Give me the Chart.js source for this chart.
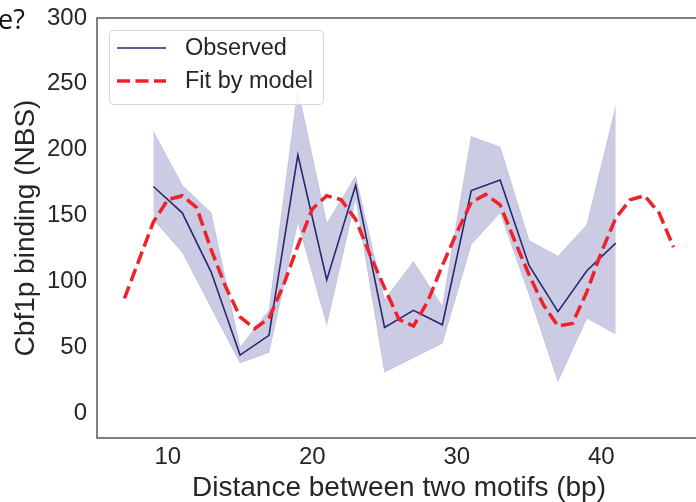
<!DOCTYPE html>
<html>
<head>
<meta charset="utf-8">
<script src="https://cdn.jsdelivr.net/npm/chart.js@4.4.1/dist/chart.umd.min.js"></script>
<style>
  html, body { margin: 0; padding: 0; background: #fff; overflow: hidden; }
  #wrap { position: relative; width: 720px; height: 502px; }
  #corner {
    position: absolute; left: -2px; top: 0px;
    font: 27px "Open Sans", "Noto Sans", sans-serif; color: #111;
  }
</style>
</head>
<body>
<div id="wrap">
  <canvas id="Chart" width="720" height="502"></canvas>
  <div id="corner">e?</div>
</div>
<script>
// spacing between the two motifs (bp), observed every 2 bp
var distances = [9, 11, 13, 15, 17, 19, 21, 23, 25, 27, 29, 31, 33, 35, 37, 39, 41];
var observed = [172, 152, 107, 44, 59, 196, 101, 173, 65, 78, 67, 169, 177, 112, 77, 108, 129];
var observedHigh = [214, 173, 152, 50, 78, 246, 144, 180, 86, 115, 81, 210, 202, 131, 119, 143, 233];
var observedLow = [147, 122, 80, 38, 46, 145, 67, 163, 31, 42, 53, 128, 152, 90, 24, 72, 60];

// model prediction, every bp
var fitDistances = [7, 8, 9, 10, 11, 12, 13, 14, 15, 16, 17, 18, 19, 20, 21, 22, 23, 24, 25, 26,
  27, 28, 29, 30, 31, 32, 33, 34, 35, 36, 37, 38, 39, 40, 41, 42, 43, 44, 45];
var fitValues = [87, 116, 145, 162, 165, 156, 124, 96, 73, 64, 72, 97, 127, 155, 165, 162, 147, 120, 95, 71,
  66, 85, 112, 137, 160, 166, 158, 131, 105, 82, 66, 68, 92, 122, 148, 162, 165, 152, 126];

var xTicks = [10, 20, 30, 40];
var yTicks = [0, 50, 100, 150, 200, 250, 300];

var labelObserved = "Observed";
var labelFit = "Fit by model";
var legendOrder = [labelObserved, labelFit];

var textColor = "#262626";
var fontFamily = "'Liberation Sans', Arial, Helvetica, sans-serif";

function pairs(xs, ys) {
  return xs.map(function (x, i) { return { x: x, y: ys[i] }; });
}

// box around the whole plot area
var frame = {
  id: "frame",
  afterDatasetsDraw: function (chart) {
    var a = chart.chartArea, ctx = chart.ctx;
    ctx.save();
    ctx.strokeStyle = "#555";
    ctx.lineWidth = 1.5;
    ctx.strokeRect(a.left, a.top, a.right - a.left, a.bottom - a.top);
    ctx.restore();
  },
};

// framed legend in the upper-left corner, only for the two main series
var boxLegend = {
  id: "boxLegend",
  afterDraw: function (chart) {
    var ctx = chart.ctx, a = chart.chartArea;
    var x = a.left + 12, y = a.top + 12, w = 214, h = 74;
    ctx.save();
    ctx.beginPath();
    ctx.roundRect(x + 0.5, y + 0.5, w, h, 4);
    ctx.fillStyle = "rgba(255,255,255,0.85)";
    ctx.fill();
    ctx.strokeStyle = "#d6d6d6";
    ctx.lineWidth = 1;
    ctx.stroke();
    legendOrder.forEach(function (label, i) {
      var d = chart.data.datasets.find(function (s) { return s.label === label; });
      var cy = y + 18 + i * 33;
      ctx.beginPath();
      ctx.setLineDash(d.borderDash || []);
      ctx.strokeStyle = d.borderColor;
      ctx.lineWidth = d.borderWidth;
      ctx.moveTo(x + 8, cy);
      ctx.lineTo(x + 57, cy);
      ctx.stroke();
      ctx.setLineDash([]);
      ctx.fillStyle = textColor;
      ctx.font = "23.5px " + fontFamily;
      ctx.textBaseline = "middle";
      ctx.fillText(d.label, x + 76, cy + 1);
    });
    ctx.restore();
  },
};

function initializeChart() {
  var ctx = document.getElementById("Chart").getContext("2d");
  if (window.myChart) window.myChart.destroy();

  window.myChart = new Chart(ctx, {
    type: "line",
    data: {
      datasets: [
        {
          label: labelFit,
          data: pairs(fitDistances, fitValues),
          borderColor: "#ee2229",
          borderWidth: 3.5,
          borderDash: [13, 5.5],
          pointRadius: 0,
          fill: false,
          order: 0,
        },
        {
          label: labelObserved,
          data: pairs(distances, observed),
          borderColor: "#27276e",
          borderWidth: 1.6,
          pointRadius: 0,
          fill: false,
          order: 1,
        },
        {
          label: "upper",
          data: pairs(distances, observedHigh),
          borderColor: "rgba(31,31,140,0.12)",
          borderWidth: 1,
          backgroundColor: "rgba(31,31,140,0.23)",
          pointRadius: 0,
          fill: "+1",
          order: 2,
        },
        {
          label: "lower",
          data: pairs(distances, observedLow),
          borderColor: "rgba(31,31,140,0.12)",
          borderWidth: 1,
          pointRadius: 0,
          fill: false,
          order: 3,
        },
      ],
    },
    options: {
      animation: false,
      responsive: false,
      layout: { padding: { top: 18, right: 19, left: 0, bottom: 0 } },
      scales: {
        x: {
          type: "linear",
          min: 5.1,
          max: 46.9,
          afterFit: function (scale) {
            scale.height = 64;
            scale.paddingLeft = 0;
            scale.paddingRight = 0;
          },
          afterBuildTicks: function (scale) {
            scale.ticks = xTicks.map(function (v) { return { value: v }; });
          },
          grid: { display: false, drawTicks: false },
          border: { display: false },
          ticks: {
            padding: 5,
            autoSkip: false,
            maxRotation: 0,
            color: textColor,
            font: { size: 24, family: fontFamily },
          },
          title: {
            display: true,
            text: "Distance between two motifs (bp)",
            color: textColor,
            padding: { top: 0, bottom: -3 },
            font: { size: 28, family: fontFamily },
          },
        },
        y: {
          min: -19,
          max: 300,
          // fixed axis width; don't let the end labels push the plot area down
          afterFit: function (scale) {
            scale.width = 97;
            scale.paddingTop = 0;
            scale.paddingBottom = 0;
          },
          afterBuildTicks: function (scale) {
            scale.ticks = yTicks.map(function (v) { return { value: v }; });
          },
          grid: { display: false, drawTicks: false },
          border: { display: false },
          ticks: {
            padding: 10,
            color: textColor,
            font: { size: 24, family: fontFamily },
          },
          title: {
            display: true,
            text: "Cbf1p binding (NBS)",
            color: textColor,
            padding: { top: 9, bottom: 0 },
            font: { size: 28, family: fontFamily },
          },
        },
      },
      plugins: {
        legend: { display: false },
        tooltip: { enabled: false },
      },
    },
    plugins: [frame, boxLegend],
  });
}

window.onload = function () {
  initializeChart();
};
</script>
</body>
</html>
